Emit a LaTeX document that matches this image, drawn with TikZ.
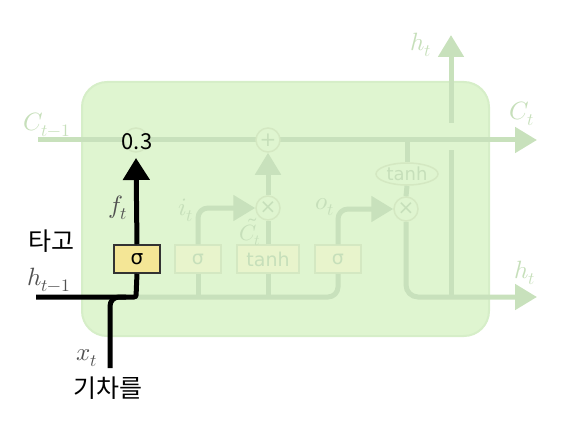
\documentclass[tikz,border=0pt]{standalone}
\usepackage{fontspec}
\usepackage{unicode-math}
\setmathfont{Latin Modern Math}
\usetikzlibrary{arrows.meta,shapes.geometric}
\newfontfamily\kr{Noto Sans CJK KR}
\newfontfamily\dv{DejaVu Sans}
\definecolor{cellfill}{RGB}{223,245,208}
\definecolor{celledge}{RGB}{214,238,200}
\definecolor{gline}{RGB}{200,225,188}
\definecolor{gtext}{RGB}{198,223,186}
\definecolor{gatefill}{RGB}{232,244,204}
\definecolor{gateedge}{RGB}{212,232,194}
\definecolor{sigfill}{RGB}{244,230,150}
\definecolor{lbl}{RGB}{80,80,80}
\begin{document}
\begin{tikzpicture}[x=1pt,y=-1pt,
  gl/.style={draw=gline,line width=5pt},
  garrow/.style={gl,-{Triangle[length=22pt,width=25pt]}},
  blk/.style={draw=black,line width=5pt},
  barrow/.style={blk,-{Triangle[length=22pt,width=26pt]}},
  gatebox/.style={draw=gateedge,fill=gatefill,line width=1.5pt,minimum width=46pt,minimum height=28pt,inner sep=0pt,text=gtext,font=\dv\fontsize{19}{19}\selectfont},
  opcirc/.style={circle,draw=gateedge,fill=cellfill,line width=1.5pt,minimum size=24pt,inner sep=0pt,text=gtext,font=\dv\fontsize{20}{20}\selectfont},
  glabel/.style={text=gtext,inner sep=0pt,font=\fontsize{25}{25}\selectfont},
  dlabel/.style={text=lbl,inner sep=0pt,font=\fontsize{25}{25}\selectfont},
  krtext/.style={text=black,inner sep=0pt,font=\kr\fontsize{25}{25}\selectfont},
]
\useasboundingbox (0,0) rectangle (563,428);
% cell
\draw[fill=cellfill,draw=celledge,line width=2pt,rounded corners=25pt] (82,82) rectangle (489,336);
% coordinates
\coordinate (cin) at (38,140);
\coordinate (cout) at (537,140);
\coordinate (ctap) at (407,140);
\coordinate (hin) at (36,297);
\coordinate (hcorner) at (136,297);
\coordinate (xin) at (110,368);
\coordinate (xjoin) at (126,297);
\coordinate (bend) at (338,297);
\coordinate (b1) at (198,297);
\coordinate (b2) at (268,297);
\coordinate (hout) at (537,297);
\coordinate (vlow) at (451,150);
\coordinate (vbot) at (451,297);
\coordinate (vup) at (451,123);
\coordinate (htop) at (451,35);
% gates
\node[gatebox] (ig) at (198,259) {σ};
\node[gatebox,minimum width=62pt] (tg) at (268,259) {tanh};
\node[gatebox] (og) at (338,259) {σ};
\node[ellipse,draw=gateedge,fill=cellfill,line width=1.5pt,minimum width=62pt,minimum height=22pt,inner sep=0pt,text=gtext,font=\dv\fontsize{18}{18}\selectfont] (th) at (407,174) {tanh};
% green lines
\draw[garrow] (cin) -- (cout);
\draw[gl,rounded corners=10pt] (hcorner) -- (bend) -- (og.south);
\draw[gl] (ig.south) -- (b1);
\draw[gl] (tg.south) -- (b2);
\draw[gl] (ctap) -- (th.north);
\draw[gl] (vlow) -- (vbot);
\draw[garrow] (vup) -- (htop);
% circles
\draw[draw=gateedge,fill=cellfill,line width=1.5pt] (136,140) circle (12pt);
\node[opcirc] (pl) at (268,140) {+};
\node[opcirc] (ix) at (268,208) {×};
\node[opcirc] (ox) at (406,209) {×};
\draw[garrow,rounded corners=10pt] (ig.north) |- (ix.west);
\draw[gl] (tg.north) -- (ix.south);
\draw[garrow] (ix.north) -- (pl.south);
\draw[garrow,rounded corners=10pt] (og.north) |- (ox.west);
\draw[gl] (th.south) -- (ox.north);
\draw[garrow,rounded corners=12pt] (ox.south) |- (hout);
% forget gate (highlighted)
\node[draw=black!80,fill=sigfill,line width=1.5pt,minimum width=46pt,minimum height=28pt,inner sep=0pt,font=\dv\fontsize{20}{20}\selectfont] (fg) at (137,259) {σ};
\draw[blk,rounded corners=2pt] (hin) -- (hcorner) -- (fg.south);
\draw[blk,rounded corners=9pt] (xin) |- (xjoin);
\draw[barrow] (fg.north) -- (136,158) coordinate (ftip);
\node[text=black,inner sep=0pt,font=\kr\fontsize{22}{22}\selectfont] (val) at (137,142) {0.3};
% labels
\node[glabel] (lc0) at (47,125) {$C_{t-1}$};
\node[glabel] (lc1) at (522,114) {$C_t$};
\node[glabel] (lht) at (421,45) {$h_t$};
\node[glabel] (lhr) at (525,273) {$h_t$};
\node[glabel] (lit) at (186,210) {$i_t$};
\node[glabel] (lot) at (325,207) {$o_t$};
\node[glabel,font=\fontsize{22}{22}\selectfont] (lct) at (250,232) {$\tilde{C}_t$};
\node[dlabel] (lft) at (118,208) {$f_t$};
\node[dlabel] (lh0) at (49,280) {$h_{t-1}$};
\node[dlabel] (lxt) at (87,358) {$x_t$};
\node[krtext] (k1) at (51,241) {타고};
\node[krtext] (k2) at (108,388) {기차를};
\end{tikzpicture}
\end{document}
